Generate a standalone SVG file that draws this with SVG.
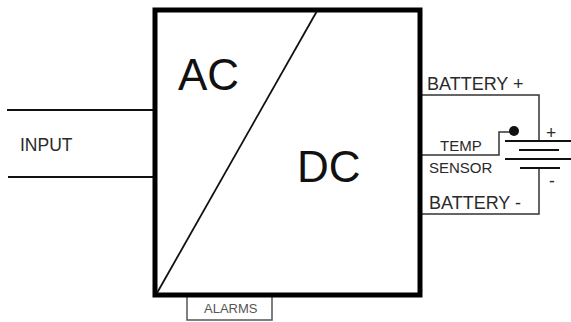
<svg xmlns="http://www.w3.org/2000/svg" width="571" height="322" viewBox="0 0 571 322">
<style>
text{font-family:"Liberation Sans",Arial,sans-serif;fill:#2a2a2a}
.w{fill:none;stroke:#333;stroke-width:1.5}
.t{fill:none;stroke:#555;stroke-width:1.5}
.c{fill:none;stroke:#111;stroke-width:2}
.lb{font-size:17.5px}
.bt{font-size:18px}
.sm{font-size:15px}
.big{font-size:44px;fill:#111}
.al{font-size:13px;fill:#555}
</style>
<rect width="571" height="322" fill="#fff"/>
<g id="connectors">
<path class="c" d="M7 110H155"/>
<path class="c" d="M8 177H155"/>
<path class="w" d="M421 95H539V141"/>
<path class="w" d="M421 155H499V132H513"/>
<path class="w" d="M421 214H539V168"/>
<path class="t" d="M187 295V320H272V295"/>
<path class="c" d="M505 141H571"/>
<path class="c" d="M519 150H559"/>
<path class="c" d="M505 159H571"/>
<path class="c" d="M520 168H560"/>
<circle cx="514" cy="131" r="5" fill="#111"/>
</g>
<g id="converter">
<rect x="155" y="10" width="265" height="285" fill="none" stroke="#000" stroke-width="5"/>
<path d="M157 293L317 11" fill="none" stroke="#111" stroke-width="1.8"/>
<text class="big" x="178" y="90">AC</text>
<text class="big" x="297" y="182">DC</text>
</g>
<g id="input"><text class="lb" x="20" y="151">INPUT</text></g>
<g id="battery-plus"><text class="bt" x="427" y="90">BATTERY +</text></g>
<g id="battery-minus"><text class="bt" x="429" y="209">BATTERY -</text></g>
<g id="temp-sensor"><text class="sm" x="440" y="151">TEMP</text><text class="sm" x="429" y="173">SENSOR</text></g>
<g id="polarity"><text class="lb" x="546" y="139">+</text><text class="lb" x="549" y="187">-</text></g>
<g id="alarms"><text class="al" x="204" y="313">ALARMS</text></g>
</svg>
